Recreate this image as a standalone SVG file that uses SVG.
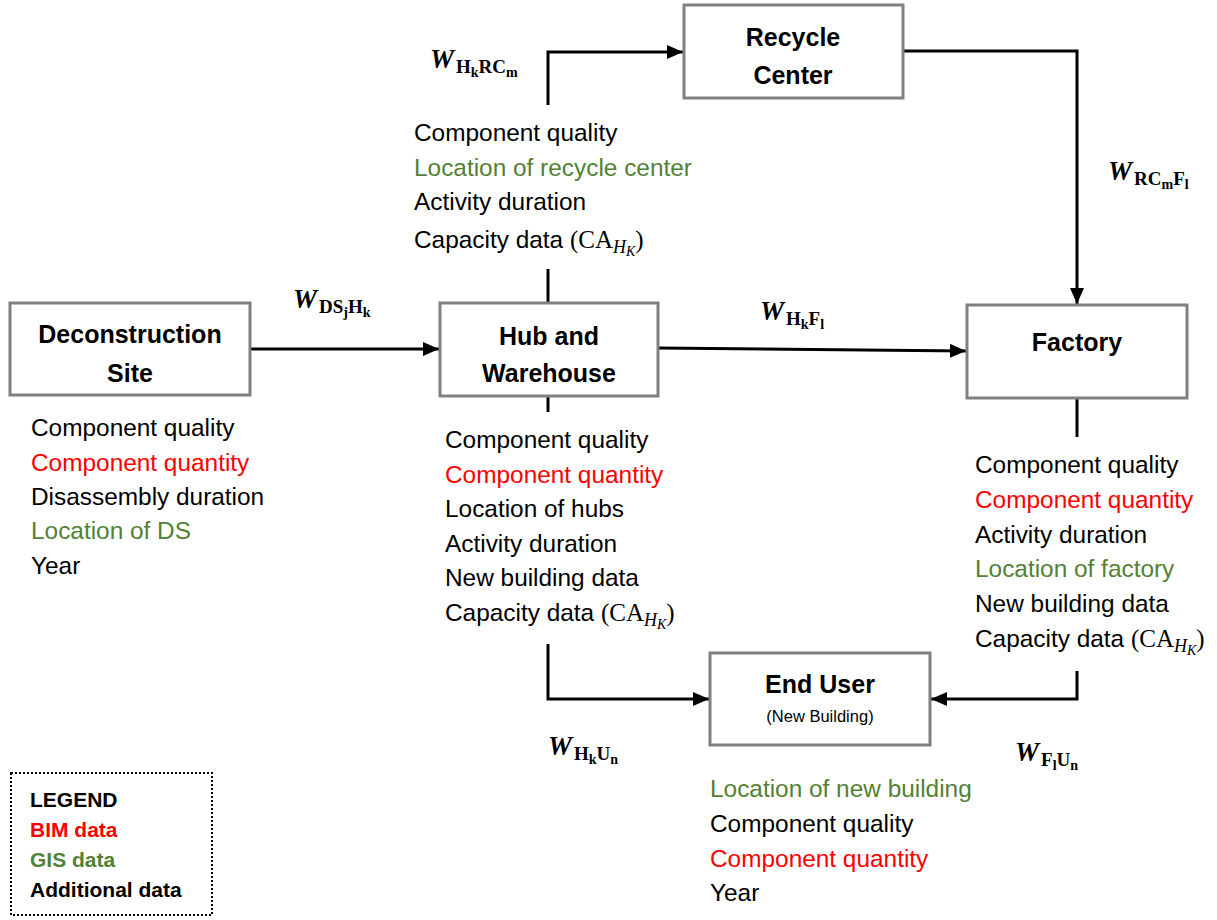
<svg xmlns="http://www.w3.org/2000/svg" width="1217" height="920" viewBox="0 0 1217 920">
<style>
.box{fill:#fff;stroke:#808080;stroke-width:3}
.title{font-family:"Liberation Sans",Arial,sans-serif;font-weight:bold;font-size:25px;fill:#000;text-anchor:middle}
.sub{font-family:"Liberation Sans",Arial,sans-serif;font-size:16.5px;fill:#000;text-anchor:middle}
.t{font-family:"Liberation Sans",Arial,sans-serif;font-size:24.4px;fill:#000}
.leg{font-family:"Liberation Sans",Arial,sans-serif;font-weight:bold;font-size:21px;fill:#000}
.m{font-family:"Liberation Serif","Times New Roman",serif;font-size:25px}
.mi{font-family:"Liberation Serif","Times New Roman",serif;font-style:italic;font-size:18px}
.mii{font-family:"Liberation Serif","Times New Roman",serif;font-style:italic;font-size:14px}
.w{font-family:"Liberation Serif","Times New Roman",serif;font-weight:bold;font-style:italic;font-size:27px;fill:#000}
.ws{font-style:normal;font-size:19px}
.wss{font-style:normal;font-size:14px}
.conn{fill:none;stroke:#000;stroke-width:3}
text.red{fill:#ff0000}
text.green{fill:#538135}
</style>
<defs>
<marker id="arr" markerUnits="userSpaceOnUse" markerWidth="18" markerHeight="14" refX="16" refY="7" orient="auto">
<path d="M0,0 L16,7 L0,14 z" fill="#000"/>
</marker>
</defs>

<g id="connectors">
<path class="conn" d="M250,349 L439,349" marker-end="url(#arr)"/>
<path class="conn" d="M658,348 L966,351" marker-end="url(#arr)"/>
<path class="conn" d="M548,105 L548,52 L683,52" marker-end="url(#arr)"/>
<path class="conn" d="M548,269 L548,302"/>
<path class="conn" d="M903,51 L1077,51 L1077,304" marker-end="url(#arr)"/>
<path class="conn" d="M548,396 L548,412"/>
<path class="conn" d="M548,644 L548,699 L709,699" marker-end="url(#arr)"/>
<path class="conn" d="M1077,397 L1077,437"/>
<path class="conn" d="M1077,671 L1077,699 L931,699" marker-end="url(#arr)"/>
</g>

<g id="recycle-center">
<rect class="box" x="684" y="5" width="219" height="93"/>
<text class="title" x="793" y="46">Recycle</text>
<text class="title" x="793" y="84">Center</text>
</g>

<g id="deconstruction-site">
<rect class="box" x="10" y="303" width="240" height="92"/>
<text class="title" x="130" y="343">Deconstruction</text>
<text class="title" x="130" y="382">Site</text>
<text class="t" x="31" y="436">Component quality</text>
<text class="t red" x="31" y="471">Component quantity</text>
<text class="t" x="31" y="505">Disassembly duration</text>
<text class="t green" x="31" y="539">Location of DS</text>
<text class="t" x="31" y="574">Year</text>
</g>

<g id="hub-warehouse">
<rect class="box" x="440" y="303" width="218" height="93"/>
<text class="title" x="549" y="345">Hub and</text>
<text class="title" x="549" y="382">Warehouse</text>
<text class="t" x="414" y="141">Component quality</text>
<text class="t green" x="414" y="176">Location of recycle center</text>
<text class="t" x="414" y="210">Activity duration</text>
<text class="t" x="414" y="248">Capacity data <tspan class="m">(CA</tspan><tspan class="mi" dy="5">H</tspan><tspan class="mii" dy="3">K</tspan><tspan class="m" dy="-8">)</tspan></text>
<text class="t" x="445" y="448">Component quality</text>
<text class="t red" x="445" y="483">Component quantity</text>
<text class="t" x="445" y="517">Location of hubs</text>
<text class="t" x="445" y="552">Activity duration</text>
<text class="t" x="445" y="586">New building data</text>
<text class="t" x="445" y="621">Capacity data <tspan class="m">(CA</tspan><tspan class="mi" dy="5">H</tspan><tspan class="mii" dy="3">K</tspan><tspan class="m" dy="-8">)</tspan></text>
</g>

<g id="factory">
<rect class="box" x="967" y="305" width="220" height="93"/>
<text class="title" x="1077" y="351">Factory</text>
<text class="t" x="975" y="473">Component quality</text>
<text class="t red" x="975" y="508">Component quantity</text>
<text class="t" x="975" y="543">Activity duration</text>
<text class="t green" x="975" y="577">Location of factory</text>
<text class="t" x="975" y="612">New building data</text>
<text class="t" x="975" y="647">Capacity data <tspan class="m">(CA</tspan><tspan class="mi" dy="5">H</tspan><tspan class="mii" dy="3">K</tspan><tspan class="m" dy="-8">)</tspan></text>
</g>

<g id="end-user">
<rect class="box" x="710" y="653" width="220" height="92"/>
<text class="title" x="820" y="693">End User</text>
<text class="sub" x="820" y="722">(New Building)</text>
<text class="t green" x="710" y="797">Location of new building</text>
<text class="t" x="710" y="832">Component quality</text>
<text class="t red" x="710" y="867">Component quantity</text>
<text class="t" x="710" y="901">Year</text>
</g>

<g id="flow-labels">
<text class="w" x="430" y="68">W<tspan class="ws" dx="2" dy="5">H</tspan><tspan class="wss" dy="4">k</tspan><tspan class="ws" dy="-4">RC</tspan><tspan class="wss" dy="4">m</tspan></text>
<text class="w" x="1108" y="180">W<tspan class="ws" dx="2" dy="5">RC</tspan><tspan class="wss" dy="4">m</tspan><tspan class="ws" dy="-4">F</tspan><tspan class="wss" dy="4">l</tspan></text>
<text class="w" x="293" y="308">W<tspan class="ws" dx="2" dy="5">DS</tspan><tspan class="wss" dy="4">j</tspan><tspan class="ws" dy="-4">H</tspan><tspan class="wss" dy="4">k</tspan></text>
<text class="w" x="760" y="320">W<tspan class="ws" dx="2" dy="5">H</tspan><tspan class="wss" dy="4">k</tspan><tspan class="ws" dy="-4">F</tspan><tspan class="wss" dy="4">l</tspan></text>
<text class="w" x="548" y="755">W<tspan class="ws" dx="2" dy="5">H</tspan><tspan class="wss" dy="4">k</tspan><tspan class="ws" dy="-4">U</tspan><tspan class="wss" dy="4">n</tspan></text>
<text class="w" x="1015" y="761">W<tspan class="ws" dx="2" dy="5">F</tspan><tspan class="wss" dy="4">l</tspan><tspan class="ws" dy="-4">U</tspan><tspan class="wss" dy="4">n</tspan></text>
</g>

<g id="legend">
<rect x="11" y="773" width="201" height="142" fill="none" stroke="#000" stroke-width="2" stroke-dasharray="2,2"/>
<text class="leg" x="30" y="807">LEGEND</text>
<text class="leg red" x="30" y="837">BIM data</text>
<text class="leg green" x="30" y="867">GIS data</text>
<text class="leg" x="30" y="897">Additional data</text>
</g>
</svg>
